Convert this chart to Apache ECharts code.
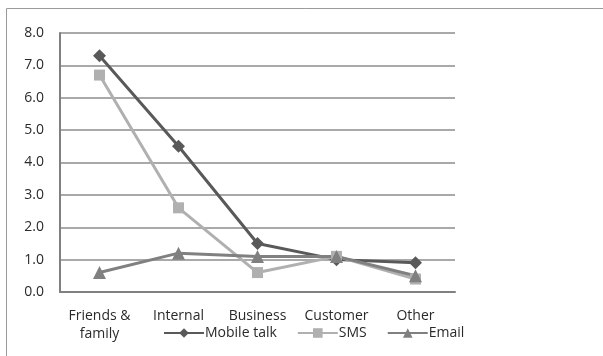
<!DOCTYPE html>
<html>
<head>
<meta charset="utf-8">
<script src="https://cdn.jsdelivr.net/npm/echarts@6/dist/echarts.min.js"></script>
<style>
  html, body { margin: 0; padding: 0; background: #fff; }
  #chart { width: 603px; height: 356px; }
</style>
</head>
<body>
<div id="chart"></div>
<script>
const categories = ["Friends &\nfamily", "Internal", "Business", "Customer", "Other"];
const mobileTalk = [7.3, 4.5, 1.5, 1.0, 0.9];
const sms = [6.7, 2.6, 0.6, 1.1, 0.4];
const email = [0.6, 1.2, 1.1, 1.1, 0.5];
const yTicks = { min: 0, max: 8, interval: 1 };

const font = "Open Sans, DejaVu Sans, sans-serif";
const chart = echarts.init(document.getElementById("chart"), null, { renderer: "canvas" });

function lineSeries(name, data, color, symbol, size) {
  return {
    name,
    type: "line",
    data,
    symbol,
    symbolSize: size,
    lineStyle: { color, width: 3 },
    itemStyle: { color },
    animation: false,
  };
}

chart.setOption({
  graphic: [
    {
      type: "rect",
      shape: { x: 6.5, y: 8.5, width: 700, height: 500 },
      style: { fill: "none", stroke: "#9a9a9a", lineWidth: 1 },
      silent: true,
    },
  ],
  grid: { left: 60, right: 148, top: 33, bottom: 64 },
  legend: {
    bottom: 11,
    left: 158,
    itemWidth: 40,
    itemHeight: 12,
    itemGap: 20,
    textStyle: { color: "#2a2a2a", fontFamily: font, fontSize: 14, padding: [0, 0, 0, -4] },
    data: ["Mobile talk", "SMS", "Email"],
  },
  xAxis: {
    type: "category",
    data: categories,
    boundaryGap: true,
    axisLine: { lineStyle: { color: "#808080", width: 2 } },
    axisTick: { show: false },
    axisLabel: {
      interval: 0,
      hideOverlap: false,
      color: "#2a2a2a",
      fontFamily: font,
      fontSize: 14,
      margin: 15,
      lineHeight: 18,
    },
  },
  yAxis: {
    type: "value",
    min: yTicks.min,
    max: yTicks.max,
    interval: yTicks.interval,
    axisLine: { show: true, lineStyle: { color: "#808080", width: 2 } },
    axisTick: { show: false },
    axisLabel: {
      color: "#2a2a2a",
      fontFamily: font,
      fontSize: 14,
      margin: 16,
      formatter: (v) => v.toFixed(1),
    },
    splitLine: { lineStyle: { color: "#8c8c8c", width: 1.5 } },
  },
  series: [
    lineSeries("Mobile talk", mobileTalk, "#595959", "diamond", 13),
    lineSeries("SMS", sms, "#b0b0b0", "rect", 11),
    lineSeries("Email", email, "#808080", "triangle", 13),
  ],
});
</script>
</body>
</html>
